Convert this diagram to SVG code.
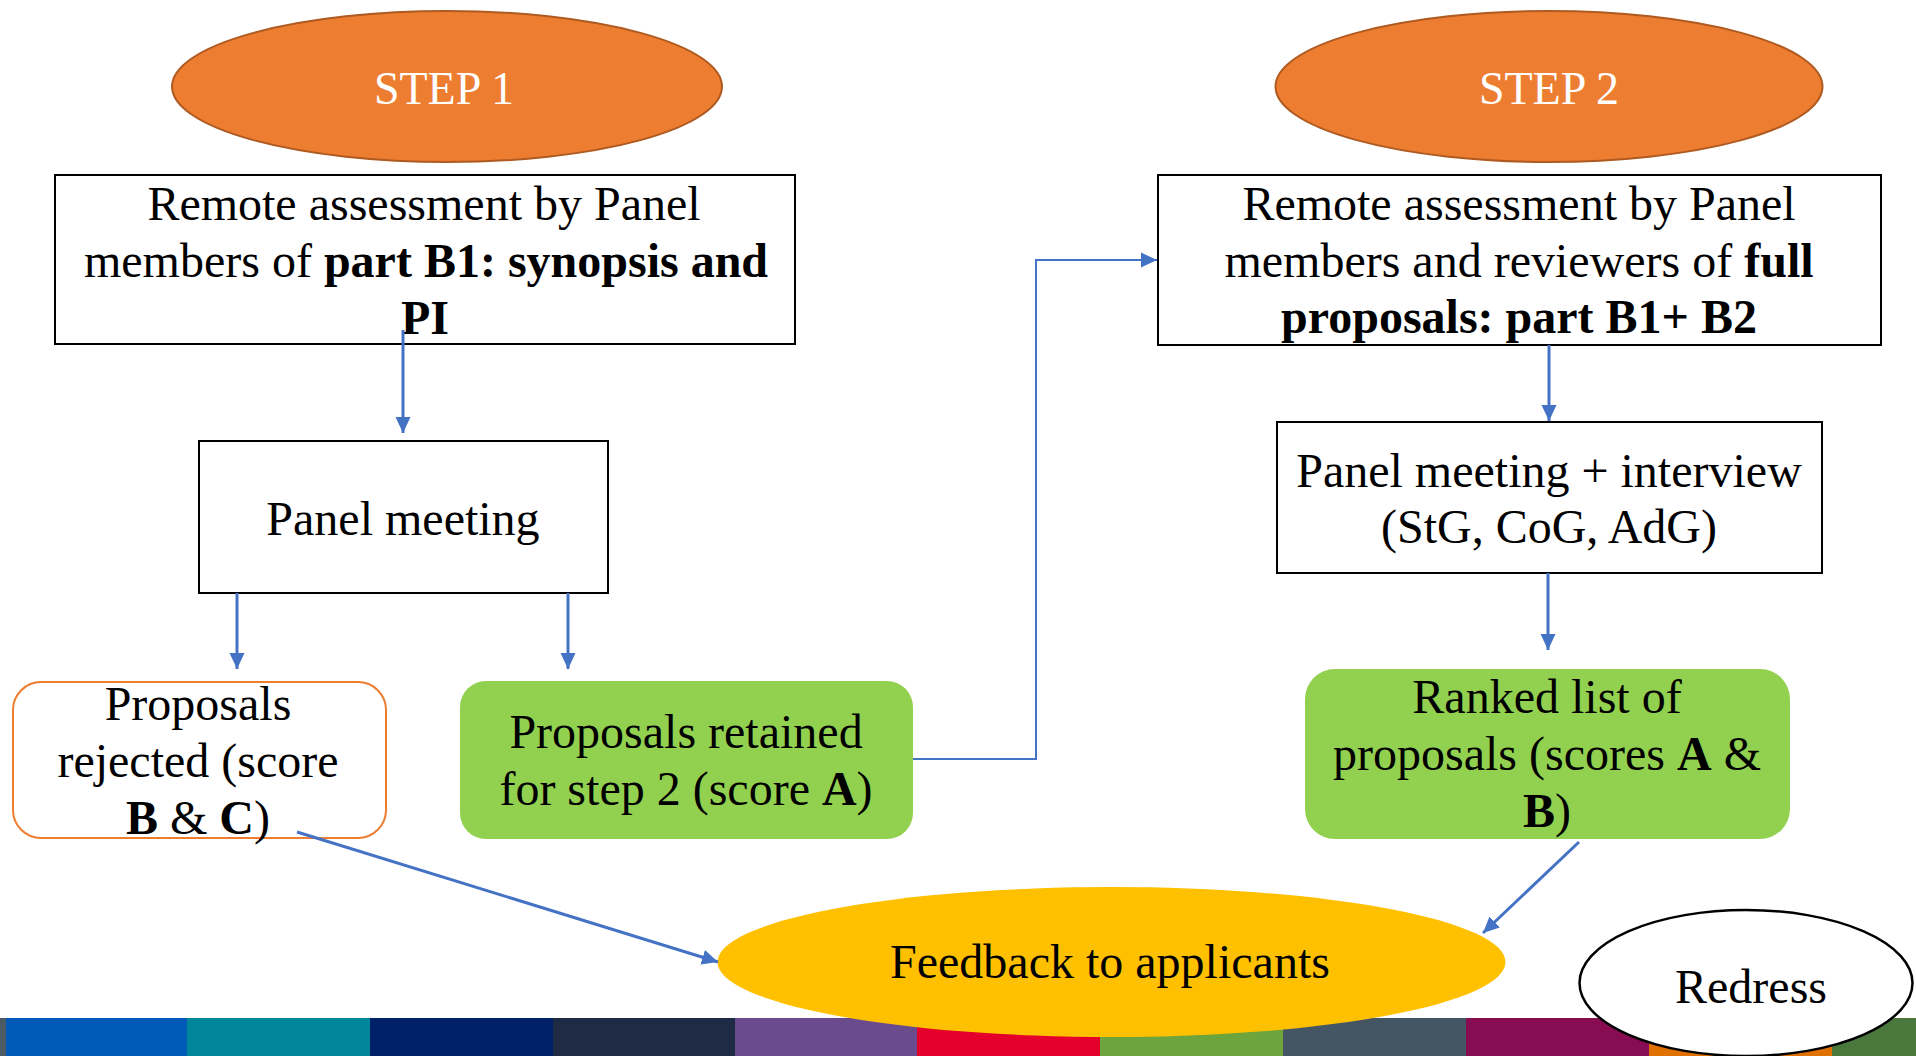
<svg xmlns="http://www.w3.org/2000/svg" width="1916" height="1056" viewBox="0 0 1916 1056">
  <style>
    text { font-family: "Liberation Serif", "Times New Roman", serif; font-size: 48px; fill: #000; text-anchor: middle; }
    .b { font-weight: bold; }
    .step { fill: #ED7D31; stroke: #AE5A21; stroke-width: 2; }
    .steptxt { fill: #FFFFFF; font-size: 46px; }
    .box { fill: #FFFFFF; stroke: #000; stroke-width: 2; }
    .green { fill: #92D050; }
    .rej { fill: #FFFFFF; stroke: #ED7D31; stroke-width: 2; }
    .conn { fill: none; stroke: #4472C4; stroke-width: 3; marker-end: url(#arr); }
    .thin { stroke-width: 2; }
  </style>
  <defs>
    <marker id="arr" markerUnits="userSpaceOnUse" markerWidth="16" markerHeight="16" viewBox="0 0 16 16" refX="16" refY="8" orient="auto">
      <path d="M0,0.5 L16,8 L0,15.5 z" fill="#4472C4"/>
    </marker>
  </defs>
  <rect x="0" y="0" width="1916" height="1056" fill="#FFFFFF"/>

  <g id="stripe">
    <rect x="0" y="1018" width="6" height="38" fill="#4D5B66"/>
    <rect x="6" y="1018" width="182" height="38" fill="#005BB8"/>
    <rect x="187" y="1018" width="184" height="38" fill="#00869B"/>
    <rect x="370" y="1018" width="184" height="38" fill="#002169"/>
    <rect x="553" y="1018" width="183" height="38" fill="#1F2B44"/>
    <rect x="735" y="1018" width="183" height="38" fill="#6A4B8D"/>
    <rect x="917" y="1018" width="184" height="38" fill="#E4002B"/>
    <rect x="1100" y="1018" width="184" height="38" fill="#6DA43B"/>
    <rect x="1283" y="1018" width="184" height="38" fill="#445664"/>
    <rect x="1466" y="1018" width="184" height="38" fill="#870C52"/>
    <rect x="1649" y="1018" width="184" height="38" fill="#E07000"/>
    <rect x="1832" y="1018" width="84" height="38" fill="#4A773C"/>
  </g>

  <g id="step1">
    <ellipse class="step" cx="447" cy="86.5" rx="275" ry="75.5"/>
    <text class="steptxt" x="444" y="104">STEP 1</text>
  </g>
  <g id="step2">
    <ellipse class="step" cx="1549" cy="86.5" rx="273.5" ry="75.5"/>
    <text class="steptxt" x="1549" y="104">STEP 2</text>
  </g>

  <g id="remote1">
    <rect class="box" x="55" y="175" width="740" height="169"/>
    <text x="424" y="220">Remote assessment by Panel</text>
    <text x="426" y="277"><tspan>members of </tspan><tspan class="b">part B1: synopsis and</tspan></text>
    <text class="b" x="425" y="334">PI</text>
  </g>

  <g id="panel1">
    <rect class="box" x="199" y="441" width="409" height="152"/>
    <text x="403" y="535">Panel meeting</text>
  </g>

  <g id="rejected">
    <rect class="rej" x="13" y="682" width="373" height="156" rx="28" ry="28"/>
    <text x="198" y="720">Proposals</text>
    <text x="198" y="777">rejected (score</text>
    <text x="198" y="834"><tspan class="b">B</tspan><tspan> &amp; </tspan><tspan class="b">C</tspan><tspan>)</tspan></text>
  </g>

  <g id="retained">
    <rect class="green" x="460" y="681" width="453" height="158" rx="26" ry="26"/>
    <text x="686" y="748">Proposals retained</text>
    <text x="686" y="805"><tspan>for step 2 (score </tspan><tspan class="b">A</tspan><tspan>)</tspan></text>
  </g>

  <g id="remote2">
    <rect class="box" x="1158" y="175" width="723" height="170"/>
    <text x="1519" y="220">Remote assessment by Panel</text>
    <text x="1519" y="277"><tspan>members and reviewers of </tspan><tspan class="b">full</tspan></text>
    <text class="b" x="1519" y="333">proposals: part B1+ B2</text>
  </g>

  <g id="panel2">
    <rect class="box" x="1277" y="422" width="545" height="151"/>
    <text x="1549" y="487">Panel meeting + interview</text>
    <text x="1549" y="543">(StG, CoG, AdG)</text>
  </g>

  <g id="ranked">
    <rect class="green" x="1305" y="669" width="485" height="170" rx="30" ry="30"/>
    <text x="1547" y="713">Ranked list of</text>
    <text x="1547" y="770"><tspan>proposals (scores </tspan><tspan class="b">A</tspan><tspan> &amp;</tspan></text>
    <text x="1547" y="827"><tspan class="b">B</tspan><tspan>)</tspan></text>
  </g>

  <g id="feedback">
    <ellipse cx="1111.5" cy="962" rx="394" ry="75" fill="#FFC000"/>
    <text x="1110" y="978">Feedback to applicants</text>
  </g>

  <g id="redress">
    <ellipse cx="1746" cy="983" rx="166.5" ry="73" fill="#FFFFFF" stroke="#000" stroke-width="2.5"/>
    <text x="1751" y="1003">Redress</text>
  </g>

  <g id="connectors">
    <path class="conn" d="M403,330 V433"/>
    <path class="conn" d="M237,593 V669"/>
    <path class="conn" d="M568,593 V669"/>
    <path class="conn thin" d="M913,759 H1036 V260 H1157"/>
    <path class="conn" d="M1549,345 V421"/>
    <path class="conn" d="M1548,573 V650"/>
    <path class="conn" d="M297,832 L718,962"/>
    <path class="conn" d="M1579,842 L1483,933"/>
  </g>
</svg>
